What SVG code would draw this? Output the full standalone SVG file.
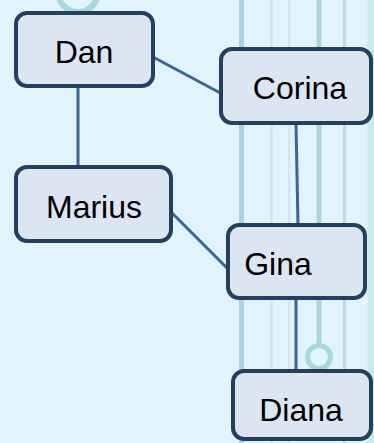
<svg xmlns="http://www.w3.org/2000/svg" width="374" height="443" viewBox="0 0 374 443">
<style>
.node rect{fill:#DCE6F2;stroke:#253F61;stroke-width:4}
.node text{font-family:"Liberation Sans",Arial,sans-serif;font-size:32px;fill:#000;text-anchor:middle}
.conn line{stroke:#3A6596;stroke-width:3}
</style>
<rect x="0" y="0" width="374" height="443" fill="#E1F4FB"/>
<g id="decor" fill="none">
<circle cx="78" cy="-8" r="20" stroke="#A9D7DA" stroke-width="6"/>
<line x1="241.5" y1="0" x2="241.5" y2="443" stroke="#AAD1E8" stroke-width="5"/>
<line x1="271.5" y1="0" x2="271.5" y2="443" stroke="#CFE9EF" stroke-width="3"/>
<line x1="289" y1="0" x2="289" y2="443" stroke="#D3E5F3" stroke-width="2.5"/>
<line x1="319" y1="0" x2="319" y2="345" stroke="#ABD7D9" stroke-width="5"/>
<circle cx="319" cy="357" r="11.5" stroke="#ABD7D9" stroke-width="5"/>
<line x1="344.5" y1="0" x2="344.5" y2="443" stroke="#C9D2E8" stroke-width="3"/>
<line x1="371" y1="0" x2="371" y2="443" stroke="#CAE9EB" stroke-width="7"/>
</g>
<g id="connectors" class="conn">
<line x1="78" y1="86" x2="78" y2="167"/>
<line x1="153" y1="57" x2="224" y2="95"/>
<line x1="296" y1="123" x2="298" y2="226"/>
<line x1="172" y1="213" x2="230" y2="271"/>
<line x1="296" y1="298" x2="296" y2="371"/>
</g>
<g id="Dan" class="node"><rect x="16" y="13" width="137" height="73" rx="11"/><text x="84" y="63">Dan</text></g>
<g id="Corina" class="node"><rect x="221" y="49" width="150" height="74" rx="11"/><text x="300" y="99">Corina</text></g>
<g id="Marius" class="node"><rect x="16" y="167" width="155" height="74" rx="11"/><text x="94" y="218">Marius</text></g>
<g id="Gina" class="node"><rect x="228" y="225" width="137" height="73" rx="11"/><text x="278" y="275">Gina</text></g>
<g id="Diana" class="node"><rect x="233" y="371" width="138" height="68" rx="11"/><text x="301" y="421">Diana</text></g>
</svg>
